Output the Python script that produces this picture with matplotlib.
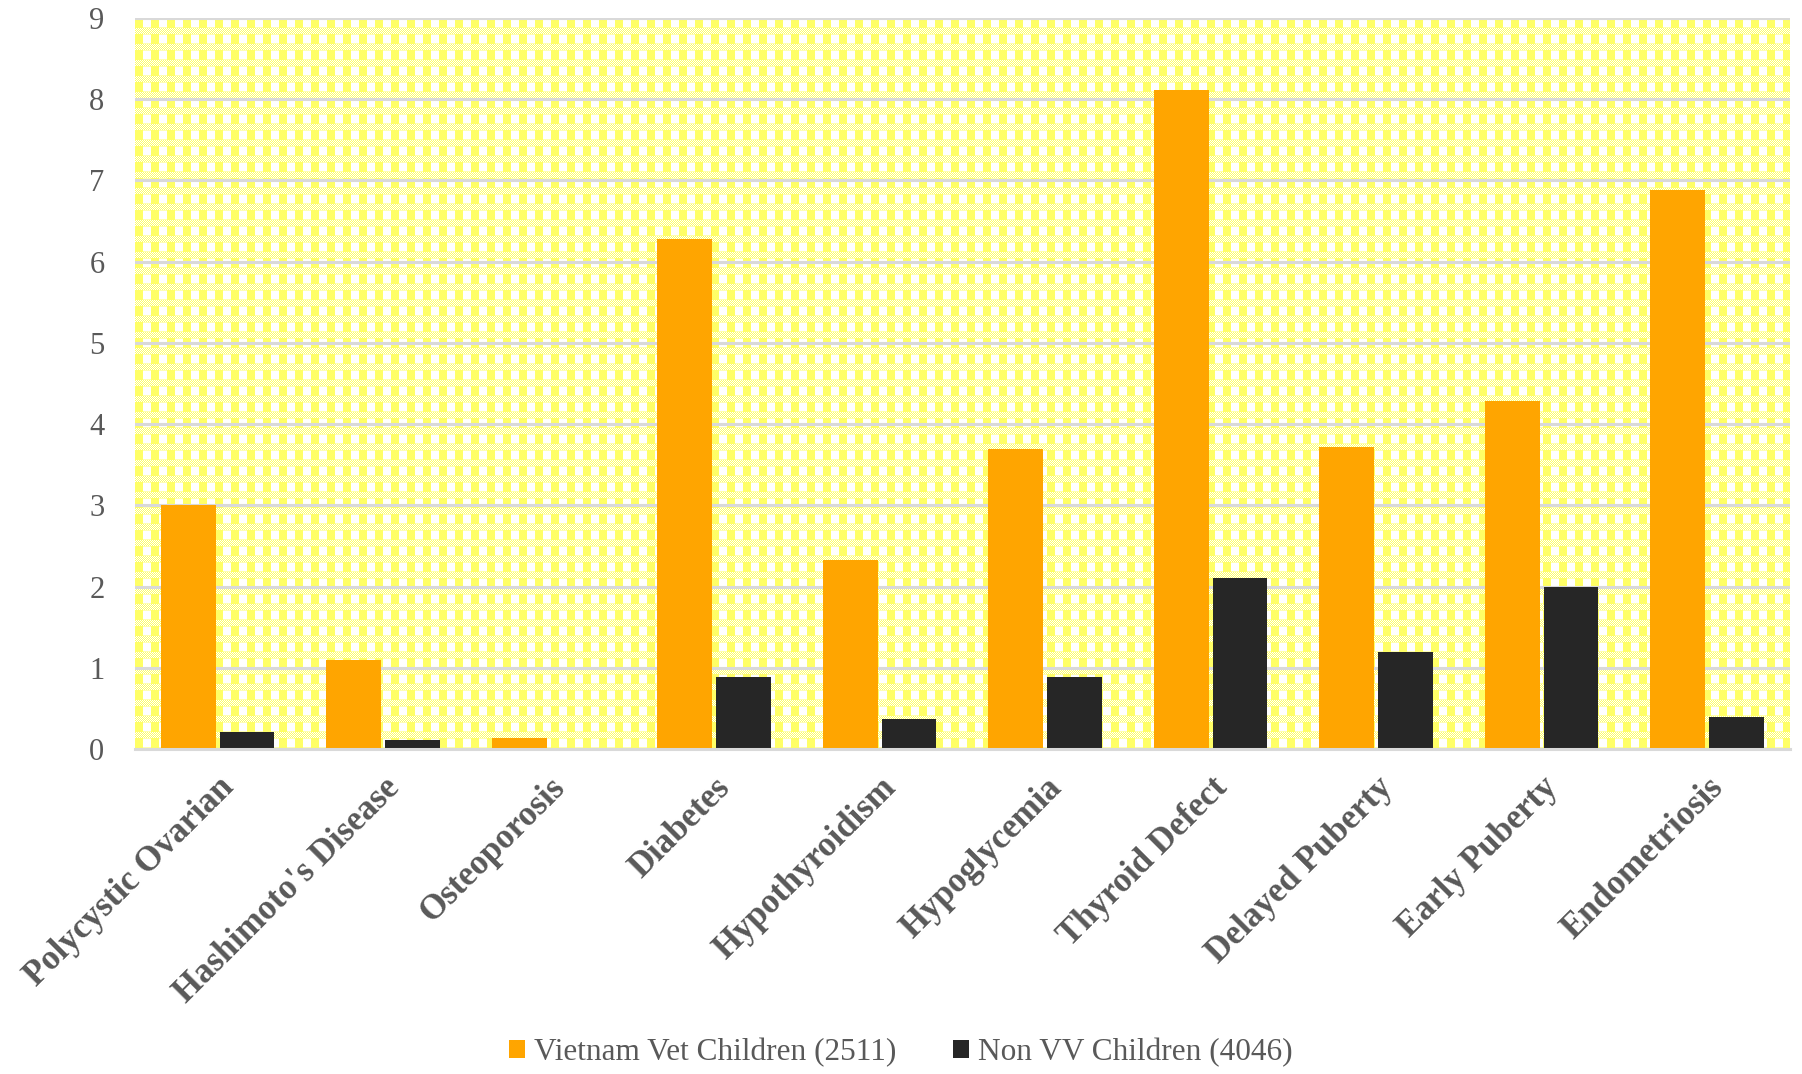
import numpy as np
import matplotlib
matplotlib.use("Agg")
import matplotlib.pyplot as plt

categories = ["Polycystic Ovarian", "Hashimoto's Disease", "Osteoporosis", "Diabetes",
              "Hypothyroidism", "Hypoglycemia", "Thyroid Defect", "Delayed Puberty",
              "Early Puberty", "Endometriosis"]
vv_children = [3.0, 1.10, 0.14, 6.28, 2.33, 3.69, 8.11, 3.72, 4.29, 6.88]
non_vv_children = [0.21, 0.11, 0.0, 0.89, 0.37, 0.89, 2.11, 1.19, 2.0, 0.40]
series_names = ["Vietnam Vet Children (2511)", "Non VV Children (4046)"]
yticks = list(range(0, 10))

plt.rcParams['font.family'] = ['Liberation Serif', 'DejaVu Serif']

fig = plt.figure(figsize=(18.02, 10.74), dpi=100)
ax = fig.add_axes([0.0749, 0.3026, 0.9184, 0.6806])

# gingham background pattern
W, H = 1655, 731
yel = np.array([1.0, 1.0, 0.40])
wht = np.array([1.0, 1.0, 1.0])
tile = np.ones((16, 16, 3))
for r in range(16):
    for c in range(16):
        if r < 10:
            col = yel if c < 8 else wht
            if r in (0, 9):
                col = yel * 0.5 + wht * 0.5 if c >= 8 else yel
        else:
            col = yel if (r + c) % 2 == 0 else wht
        tile[r, c] = col
img = np.tile(tile, (H // 16 + 1, W // 16 + 1, 1))[:H, :W]
ax.imshow(img, extent=[0, 1, 0, 1], transform=ax.transAxes, aspect='auto',
          interpolation='nearest', zorder=0)

x = np.arange(len(categories))
bw = 0.33
ax.bar(x - 0.178, vv_children, bw, color='#FFA500', zorder=3, label=series_names[0])
ax.bar(x + 0.178, non_vv_children, bw, color='#262626', zorder=3, label=series_names[1])

ax.set_xlim(-0.5, len(categories) - 0.5)
ax.set_ylim(0, 9)
ax.set_yticks(yticks)
ax.yaxis.grid(True, color='#D9D9D9', linewidth=2.2, zorder=1)
ax.set_axisbelow(False)
for gl in ax.get_ygridlines():
    gl.set_zorder(1)

for s in ['top', 'right', 'left']:
    ax.spines[s].set_visible(False)
ax.spines['bottom'].set_color('#D9D9D9')
ax.spines['bottom'].set_linewidth(2.2)
ax.spines['bottom'].set_zorder(4)

ax.tick_params(axis='both', length=0)
ax.tick_params(axis='y', labelsize=22, labelcolor='#595959', pad=22)
ax.set_xticks(x)
ax.set_xticklabels(categories, rotation=45, ha='right', rotation_mode='anchor',
                   fontsize=25, fontweight='bold', color='#595959')
ax.tick_params(axis='x', pad=16)

leg = fig.legend(loc='lower center', bbox_to_anchor=(0.5, -0.02), ncol=2, frameon=False,
                 fontsize=22.5, handlelength=0.5, handleheight=0.5, handletextpad=0.3,
                 columnspacing=1.8)
for t in leg.get_texts():
    t.set_color('#595959')

fig.savefig('out.png', dpi=100)
